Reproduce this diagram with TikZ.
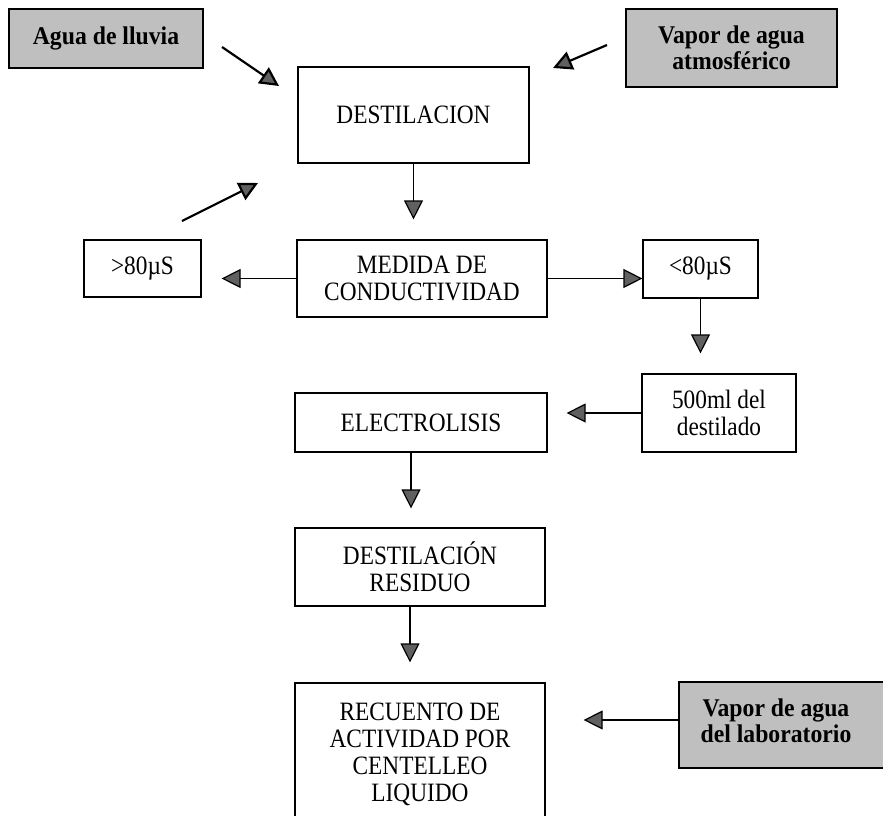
\documentclass[tikz,border=0pt]{standalone}
\usepackage{fontspec}
\setmainfont{Liberation Serif}[FakeStretch=0.88]
\newfontfamily\labelbold{Liberation Serif}[FakeStretch=0.93]
\usetikzlibrary{arrows.meta}
\begin{document}
\begin{tikzpicture}[x=1pt,y=-1pt,
  box/.style={draw, line width=1.2pt, fill=white, inner sep=0pt, align=center, font=\fontsize{26.5}{27}\selectfont},
  shadebox/.style={box, fill=gray!50, line width=1.5pt, font=\labelbold\fontsize{25.5}{26}\selectfont\bfseries},
  boldtext/.style={inner sep=0pt, align=center, font=\labelbold\fontsize{25.5}{26}\selectfont\bfseries},
  conn/.style={line width=1.2pt, line join=miter, -{Triangle[length=19pt,width=19pt,fill=gray!75!black]}},
  diag/.style={conn, line width=2.2pt}
]
\clip (0,0) rectangle (883,815);

\node[shadebox, minimum width=194pt, minimum height=59pt] (rain) at (106,38.5) {Agua de lluvia};
\node[shadebox, minimum width=211pt, minimum height=78pt] (atm) at (731.5,48) {Vapor de agua\\atmosférico};
\node[box, minimum width=231pt, minimum height=96pt] (dest) at (413.5,115) {DESTILACION};
\node[box, minimum width=250pt, minimum height=77pt] (med) at (422,278.5) {MEDIDA DE\\CONDUCTIVIDAD};
\node[box, minimum width=117pt, minimum height=57pt] (gt) at (142.5,268.5) {>80µS};
\node[box, minimum width=115pt, minimum height=58pt] (lt) at (700.5,269) {<80µS};
\node[box, minimum width=154pt, minimum height=78pt] (ml) at (719,413) {500ml del\\destilado};
\node[box, minimum width=252pt, minimum height=59pt] (elec) at (421,422.5) {ELECTROLISIS};
\node[box, minimum width=250pt, minimum height=78pt] (res) at (420,567) {DESTILACIÓN\\RESIDUO};
\node[box, minimum width=250pt, minimum height=142pt] (rec) at (420,754) {RECUENTO DE\\ACTIVIDAD POR\\CENTELLEO\\LIQUIDO};
\node[shadebox, minimum width=230pt, minimum height=86pt] (lab) at (794,725) {};
\node[boldtext] (labtext) at (776,721) {Vapor de agua\\del laboratorio};

\coordinate (r1) at (222,47);  \coordinate (r2) at (279,86);
\coordinate (a1) at (607,45);  \coordinate (a2) at (553,68);
\coordinate (g1) at (182,221); \coordinate (g2) at (258,183);

\draw[diag] (r1) -- (r2);
\draw[diag] (a1) -- (a2);
\draw[diag] (g1) -- (g2);

\draw[conn, shorten >=20pt] (dest.south) -- (dest.south |- med.north);
\draw[conn, shorten >=20pt] (med.west) -- (med.west -| gt.east);
\draw[conn] (med.east) -- (med.east -| lt.west);
\draw[conn, shorten >=20pt] (lt.south) -- (lt.south |- ml.north);
\draw[conn, shorten >=19pt] (ml.west) -- (ml.west -| elec.east);
\draw[conn, shorten >=19pt] ([xshift=-10pt]elec.south) -- ([xshift=-10pt]elec.south |- res.north);
\draw[conn, shorten >=20pt] ([xshift=-10pt]res.south) -- ([xshift=-10pt]res.south |- rec.north);
\draw[conn, shorten >=38pt] ([yshift=5pt]lab.west) -- ([yshift=5pt]lab.west -| rec.east);
\end{tikzpicture}
\end{document}
